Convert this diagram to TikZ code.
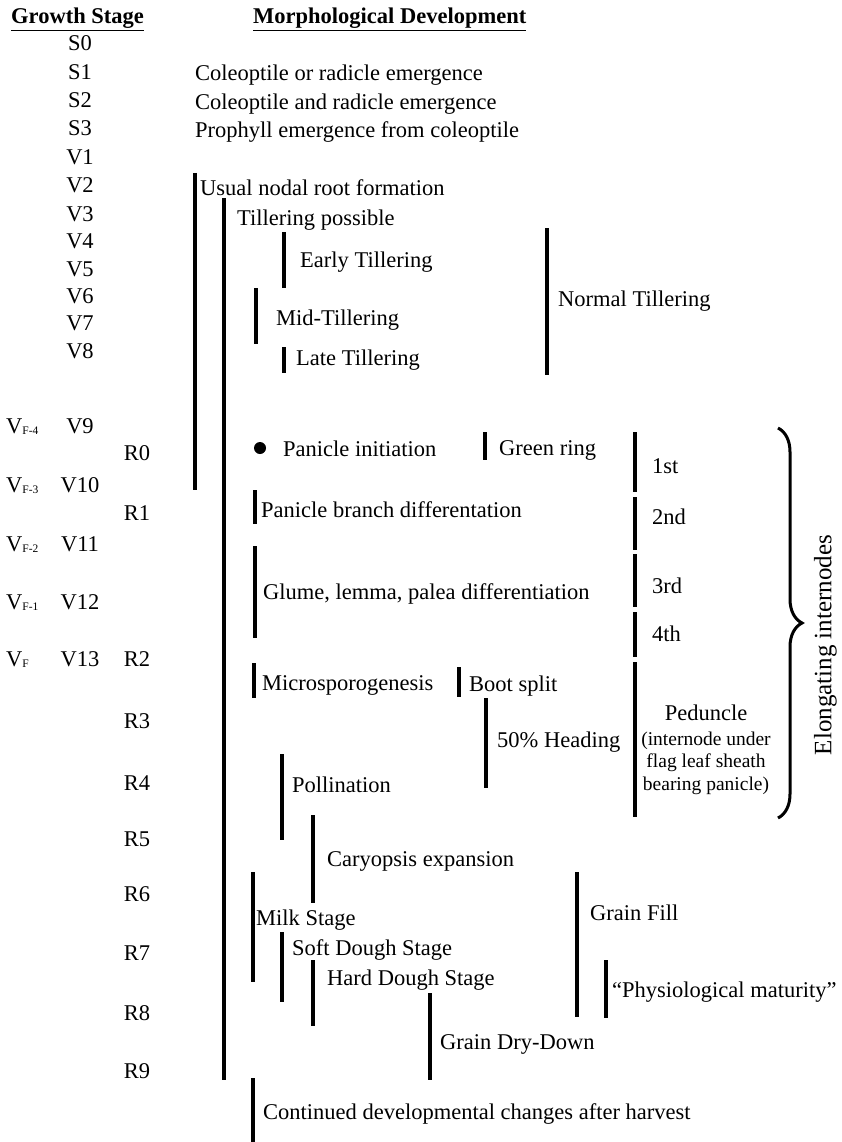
\documentclass[tikz,border=0pt]{standalone}
\usepackage{fontspec}
\setmainfont{Liberation Serif}
\usetikzlibrary{decorations.pathreplacing}
\begin{document}
\begin{tikzpicture}[x=1pt,y=-1pt,
  lbl/.style={anchor=base west,inner sep=0pt,yshift=-8pt,font=\fontsize{22.5}{26}\selectfont},
  stg/.style={anchor=base,inner sep=0pt,yshift=-8pt,font=\fontsize{22.5}{26}\selectfont},
  hdr/.style={anchor=base west,inner sep=0pt,yshift=-8pt,font=\fontsize{22.5}{26}\selectfont\bfseries},
  small/.style={anchor=base,inner sep=0pt,yshift=-7pt,font=\fontsize{19.5}{22}\selectfont},
  bar/.style={line width=4pt}
]
\useasboundingbox[fill=white] (0,0) rectangle (841,1142);

% headers
\node[hdr] (hgs) at (11,16) {\underline{Growth Stage}};
\node[hdr] (hmd) at (253,16) {\underline{Morphological Development}};

% growth stage column
\foreach \t/\y/\n in {S0/43/s0,S1/72/s1,S2/100/s2,S3/128/s3,V1/157/v1,V2/185/v2,V3/213/v3,V4/240/v4,V5/268/v5,V6/295/v6,V7/322/v7,V8/350/v8,V9/425/v9,V10/484/v10,V11/543/v11,V12/601/v12,V13/658/v13}
  \node[stg] (\n) at (80,\y) {\t};
\foreach \t/\y/\n in {R0/452/r0,R1/512/r1,R2/658/r2,R3/720/r3,R4/782/r4,R5/838/r5,R6/893/r6,R7/952/r7,R8/1012/r8,R9/1070/r9}
  \node[stg] (\n) at (137,\y) {\t};
\foreach \s/\y/\n in {F-4/425/vf4,F-3/484/vf3,F-2/543/vf2,F-1/601/vf1,F/658/vf}
  \node[lbl] (\n) at (6,\y) {V\raisebox{-1.5pt}{\fontsize{11.5}{12}\selectfont\s}};

% early stages
\node[lbl] (t1) at (195,73) {Coleoptile or radicle emergence};
\node[lbl] (t2) at (195,102) {Coleoptile and radicle emergence};
\node[lbl] (t3) at (195,130) {Prophyll emergence from coleoptile};

% vegetative
\draw[bar] (195,173) -- (195,490);
\node[lbl] (unr) at (200,187) {Usual nodal root formation};
\draw[bar] (224,198) -- (224,1080);
\node[lbl] (tp) at (237,217) {Tillering possible};
\draw[bar] (284,232) -- (284,288);
\node[lbl] (et) at (300,259) {Early Tillering};
\draw[bar] (256,288) -- (256,344);
\node[lbl] (mt) at (276,317) {Mid-Tillering};
\draw[bar] (284,347) -- (284,373);
\node[lbl] (lt) at (296,357) {Late Tillering};
\draw[bar] (547,228) -- (547,375);
\node[lbl] (nt) at (558,298) {Normal Tillering};

% reproductive
\fill (260,448) circle (6);
\node[lbl] (pi) at (283,448) {Panicle initiation};
\draw[bar] (485,432) -- (485,460);
\node[lbl] (gr) at (499,447) {Green ring};
\draw[bar] (255,490) -- (255,524);
\node[lbl] (pbd) at (261,509) {Panicle branch differentation};
\draw[bar] (255,546) -- (255,638);
\node[lbl] (glp) at (263,591) {Glume, lemma, palea differentiation};
\draw[bar] (254,663) -- (254,698);
\node[lbl] (mic) at (262,682) {Microsporogenesis};
\draw[bar] (459,667) -- (459,697);
\node[lbl] (bs) at (469,683) {Boot split};
\draw[bar] (486,698) -- (486,788);
\node[lbl] (hd) at (497,739) {50\% Heading};
\draw[bar] (282,754) -- (282,840);
\node[lbl] (pol) at (292,784) {Pollination};
\draw[bar] (313,815) -- (313,903);
\node[lbl] (car) at (327,858) {Caryopsis expansion};
\draw[bar] (253,872) -- (253,982);
\node[lbl] (milk) at (256,917) {Milk Stage};
\draw[bar] (282,932) -- (282,1002);
\node[lbl] (sd) at (292,947) {Soft Dough Stage};
\draw[bar] (313,960) -- (313,1026);
\node[lbl] (hds) at (327,977) {Hard Dough Stage};
\draw[bar] (577,872) -- (577,1017);
\node[lbl] (gf) at (590,912) {Grain Fill};
\draw[bar] (606,960) -- (606,1018);
\node[lbl] (pm) at (612,989) {``Physiological maturity''};
\draw[bar] (430,993) -- (430,1080);
\node[lbl] (gdd) at (440,1041) {Grain Dry-Down};
\draw[bar] (253,1078) -- (253,1142);
\node[lbl] (cont) at (263,1111) {Continued developmental changes after harvest};

% internodes
\draw[bar] (635,432) -- (635,492);
\node[lbl] (i1) at (652,465) {1st};
\draw[bar] (635,497) -- (635,550);
\node[lbl] (i2) at (652,516) {2nd};
\draw[bar] (635,554) -- (635,607);
\node[lbl] (i3) at (652,585) {3rd};
\draw[bar] (635,612) -- (635,657);
\node[lbl] (i4) at (652,633) {4th};
\draw[bar] (635,662) -- (635,817);
\node[stg] (ped) at (706,712) {Peduncle};
\node[small] (ped1) at (706,738) {(internode under};
\node[small] (ped2) at (706,760) {flag leaf sheath};
\node[small] (ped3) at (706,783) {bearing panicle)};

\draw[line width=3pt,decorate,decoration={brace,amplitude=24pt}] (778,428) -- (778,818);
\node[anchor=center,inner sep=0pt,rotate=90,font=\fontsize{25}{28}\selectfont,text height=0.68em,text depth=0.2em] (elong) at (829,645) {Elongating internodes};
\end{tikzpicture}
\end{document}
